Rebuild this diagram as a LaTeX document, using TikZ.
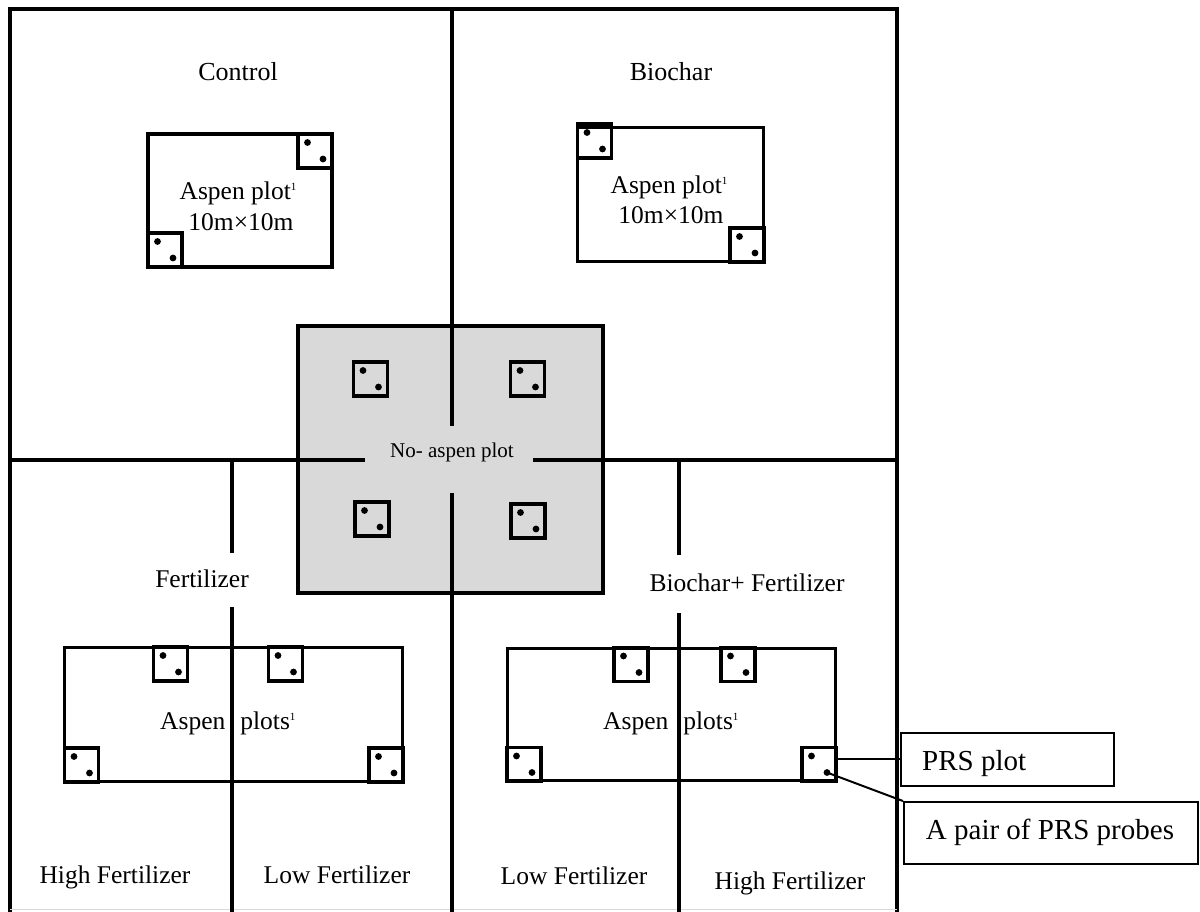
\documentclass[tikz,border=0pt]{standalone}
\usepackage{fontspec}
\setmainfont{Liberation Serif}
\usetikzlibrary{calc}
\newcommand\supone{\raisebox{9pt}{\fontsize{11}{11}\selectfont 1}}
\begin{document}
\begin{tikzpicture}[x=1pt,y=-1pt,
  wall/.style={line width=3.5pt},
  plotbox/.style={draw,line width=3.5pt},
  prs/.style={draw,line width=3.5pt,minimum size=34pt,inner sep=0pt,
    path picture={
      \fill ([shift={(-7.5pt,8.5pt)}]path picture bounding box.center) circle (3.4pt);
      \fill ([shift={(8pt,-8pt)}]path picture bounding box.center) circle (3.4pt);}},
  lbl/.style={font=\fontsize{25.5}{30}\selectfont,inner sep=0pt,anchor=base},
  smalllbl/.style={font=\fontsize{21}{25}\selectfont,inner sep=0pt,anchor=base},
  callout/.style={draw,line width=1.6pt,inner sep=0pt},
  calltext/.style={font=\fontsize{29}{34}\selectfont,inner sep=0pt},
  link/.style={line width=2pt}]
\useasboundingbox (0,0) rectangle (1200,911);

% central no-aspen plot
\filldraw[fill=black!15,line width=3.5pt] (298,326) rectangle (603,593);

% frame and dividers
\draw[wall,line join=miter] (10,913) -- (10,9) -- (897,9) -- (897,913);
\draw[black!15,line width=1pt] (10,909.5) -- (897,909.5);
\draw[wall] (452,9) -- (452,426);
\draw[wall] (452,493) -- (452,913);
\draw[wall] (10,460) -- (365,460);
\draw[wall] (533,460) -- (897,460);
\draw[wall] (232,460) -- (232,553);
\draw[wall] (232,607) -- (232,913);
\draw[wall] (679,460) -- (679,555);
\draw[wall] (679,613) -- (679,913);

% aspen plots
\draw[plotbox] (148,134) rectangle (332,267);
\draw[plotbox] (577.5,127.5) rectangle (763.5,261.5);
\draw[plotbox] (64.5,647.5) rectangle (402.5,781.5);
\draw[plotbox] (507.5,648.5) rectangle (835.5,780.5);

% PRS plots
\node[prs] (tl1) at (315,151) {};
\node[prs] (tl2) at (165,250) {};
\node[prs] (tr1) at (594.5,141) {};
\node[prs] (tr2) at (747,245) {};
\node[prs] (g1) at (370.5,379) {};
\node[prs] (g2) at (527.5,379) {};
\node[prs] (g3) at (372,519) {};
\node[prs] (g4) at (528,521) {};
\node[prs] (l1) at (170.5,664) {};
\node[prs] (l2) at (285.5,664) {};
\node[prs] (l3) at (81.5,765) {};
\node[prs] (l4) at (386,765) {};
\node[prs] (r1) at (631,664.5) {};
\node[prs] (r2) at (738,664.5) {};
\node[prs] (r3) at (524,764.5) {};
\node[prs] (r4) at (819,764.5) {};

% labels
\node[lbl,font=\fontsize{26}{30}\selectfont] (control) at (238,80) {Control};
\node[lbl,font=\fontsize{26}{30}\selectfont] (biochar) at (671,80) {Biochar};
\node[lbl] (asp1) at (238,199) {Aspen plot\supone};
\node[lbl] (dim1) at (241,230) {10m×10m};
\node[lbl] (asp2) at (669,193) {Aspen plot\supone};
\node[lbl] (dim2) at (671,223) {10m×10m};
\node[smalllbl] (noasp) at (452,457) {No- aspen plot};
\node[lbl] (fert) at (202,587) {Fertilizer};
\node[lbl] (bfert) at (747,591) {Biochar+ Fertilizer};
\node[lbl,anchor=base west] (asp3) at (160,729) {Aspen\hspace{15pt}plots\supone};
\node[lbl,anchor=base west] (asp4) at (603,729) {Aspen\hspace{15pt}plots\supone};
\node[lbl] (hf1) at (115,883) {High Fertilizer};
\node[lbl] (lf1) at (337,883) {Low Fertilizer};
\node[lbl] (lf2) at (574,884) {Low Fertilizer};
\node[lbl] (hf2) at (790,889) {High Fertilizer};

% callouts
\node[callout,anchor=north west,minimum width=213pt,minimum height=53pt] (prsbox) at (900,732) {};
\node[calltext,anchor=base west] (prstext) at (922,770) {PRS plot};
\node[callout,anchor=north west,minimum width=294pt,minimum height=62pt] (pairbox) at (903,801) {};
\node[calltext,anchor=base] (pairtext) at (1050,839) {A pair of PRS probes};
\draw[link] (r4.east |- prsbox.west) -- (prsbox.west);
\draw[link] ($(r4.center)+(8pt,-8pt)$) -- (pairbox.north west);
\end{tikzpicture}
\end{document}
